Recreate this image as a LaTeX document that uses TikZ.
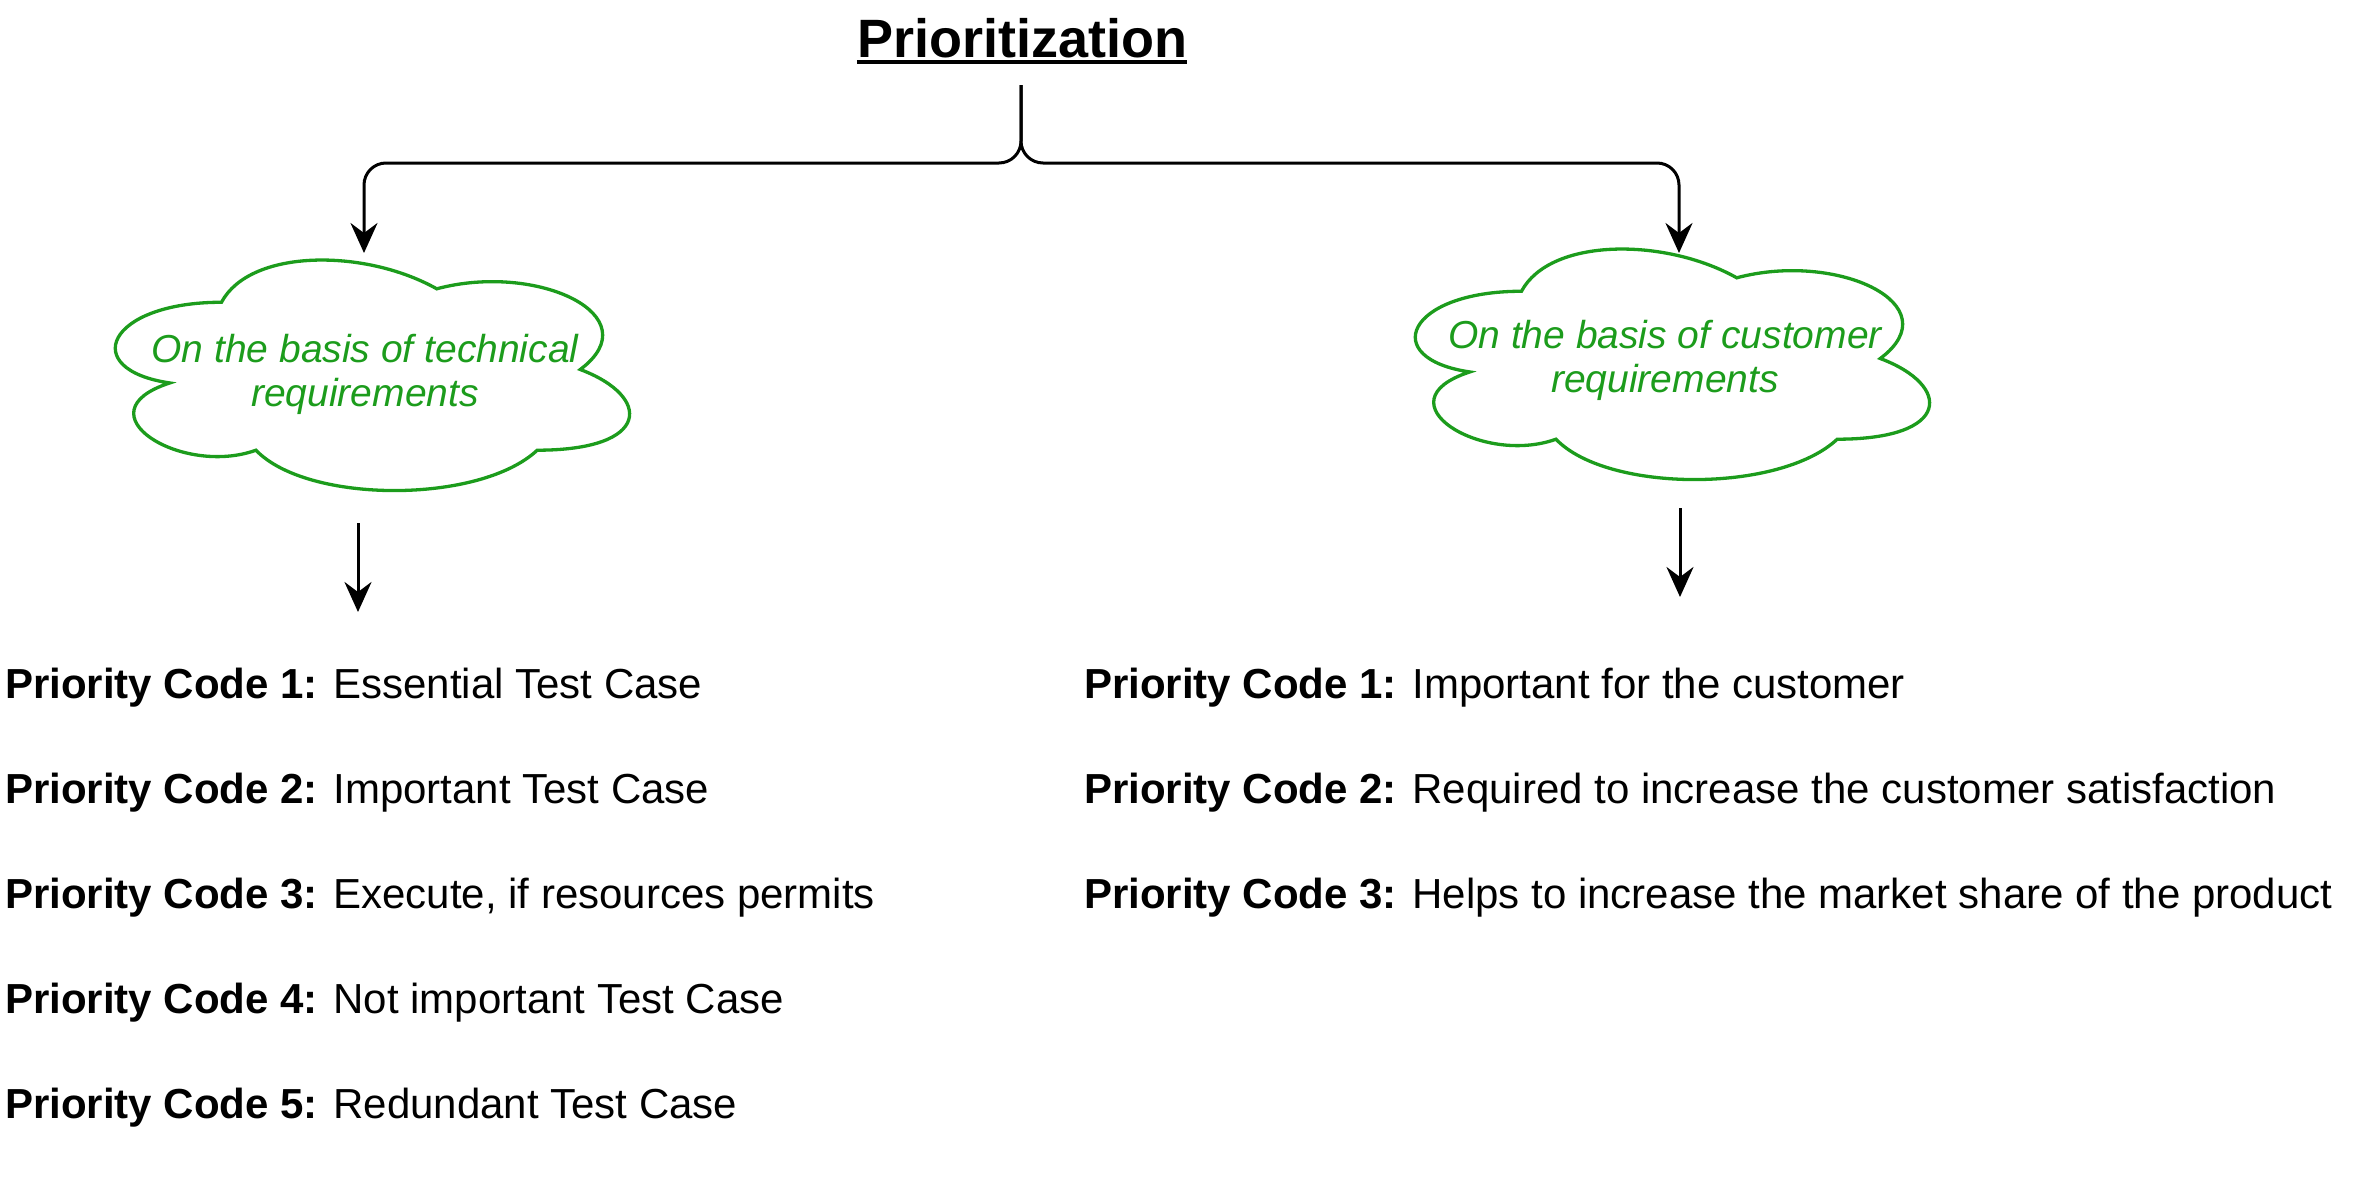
\documentclass[tikz,border=0pt]{standalone}
\usepackage{fontspec}
\setmainfont{Liberation Sans}
\usetikzlibrary{arrows.meta}
\definecolor{cloudgreen}{RGB}{28,156,28}
\tikzset{
  conn/.style={line width=3pt, black, -{Stealth[length=30pt, width=27pt, inset=10pt]}},
  cloudline/.style={line width=3.3pt, draw=cloudgreen},
  cloudtext/.style={inner sep=0pt, align=center, text=cloudgreen,
    font=\fontsize{39}{44}\selectfont\itshape},
  itemtext/.style={inner sep=0pt, anchor=base west, font=\fontsize{42}{50}\selectfont},
  titletext/.style={inner sep=0pt, anchor=base, font=\fontsize{54}{64}\selectfont\bfseries}
}
\newcommand{\drawioCloud}[4]{%
  \begin{scope}[shift={(#1,#2)}, xscale=#3, yscale=#4]
    \draw[cloudline] (0.25,0.25) .. controls (0.05,0.25) and (0,0.5) .. (0.16,0.55)
      .. controls (0,0.66) and (0.18,0.9) .. (0.31,0.8)
      .. controls (0.4,1) and (0.7,1) .. (0.8,0.8)
      .. controls (1,0.8) and (1,0.6) .. (0.875,0.5)
      .. controls (1,0.3) and (0.8,0.1) .. (0.625,0.2)
      .. controls (0.5,0.05) and (0.3,0.05) .. (0.25,0.25) -- cycle;
  \end{scope}}
\begin{document}
\begin{tikzpicture}[x=1pt, y=-1pt]
\useasboundingbox (0,0) rectangle (2370,1197);

% title
\node[titletext] (title) at (1022,57) {Prioritization};
\draw[line width=3.2pt] ([yshift=-5pt]title.base west) -- ([yshift=-5pt]title.base east);

% clouds
\drawioCloud{78}{235}{574}{269}
\drawioCloud{1378}{224}{574}{269}
\node[cloudtext] (tech) at (365,374) {On the basis of technical\\requirements};
\node[cloudtext] (cust) at (1665,360) {On the basis of customer\\requirements};

% brace connectors
\coordinate (brtop) at (1021,85);
\coordinate (brmid) at (1021,163);
\coordinate (techin) at (364,253);
\coordinate (custin) at (1679,253);
\draw[conn, rounded corners=22pt] (brtop) -- (brmid) -| (techin);
\draw[conn, rounded corners=22pt] (brtop) -- (brmid) -| (custin);

% lower arrows
\coordinate (techout) at (358,523);
\coordinate (techend) at (358,612);
\coordinate (custout) at (1680,508);
\coordinate (custend) at (1680,597);
\draw[conn] (techout) -- (techend);
\draw[conn] (custout) -- (custend);

% left list
\node[itemtext] (l1) at (5,698) {\textbf{Priority Code 1:} Essential Test Case};
\node[itemtext] (l2) at (5,803) {\textbf{Priority Code 2:} Important Test Case};
\node[itemtext] (l3) at (5,908) {\textbf{Priority Code 3:} Execute, if resources permits};
\node[itemtext] (l4) at (5,1013) {\textbf{Priority Code 4:} Not important Test Case};
\node[itemtext] (l5) at (5,1118) {\textbf{Priority Code 5:} Redundant Test Case};

% right list
\node[itemtext] (r1) at (1084,698) {\textbf{Priority Code 1:} Important for the customer};
\node[itemtext] (r2) at (1084,803) {\textbf{Priority Code 2:} Required to increase the customer satisfaction};
\node[itemtext] (r3) at (1084,908) {\textbf{Priority Code 3:} Helps to increase the market share of the product};
\end{tikzpicture}
\end{document}
